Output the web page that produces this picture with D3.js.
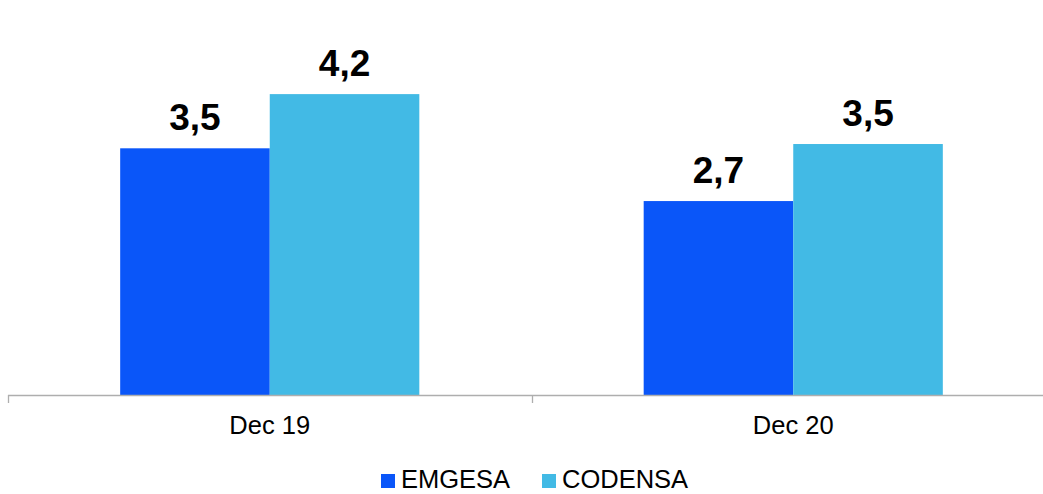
<!DOCTYPE html>
<html>
<head>
<meta charset="utf-8">
<script src="https://cdn.jsdelivr.net/npm/d3@7"></script>
<style>
  html, body { margin: 0; padding: 0; background: #fff; }
  svg { display: block; font-family: "Liberation Sans", Arial, sans-serif; }
</style>
</head>
<body>
<svg id="chart" width="1043" height="494"></svg>
<script>
const categories = ["Dec 19", "Dec 20"];
const seriesNames = ["EMGESA", "CODENSA"];
const emgesa = [3.46, 2.72];
const codensa = [4.22, 3.52];
const colors = ["#0A56F9", "#42BAE5"];

const seriesValues = [emgesa, codensa];
const rows = categories.map((c, i) => ({
  cat: c,
  vals: seriesNames.map((s, j) => ({ series: s, value: seriesValues[j][i], color: colors[j] }))
}));

const svg = d3.select("#chart");
const baseY = 395;

const x0 = d3.scaleBand().domain(categories).range([8, 1055]).paddingInner(0).paddingOuter(0);
const x1 = d3.scaleBand().domain(seriesNames).range([0, x0.bandwidth()]).paddingInner(0).paddingOuter(0.75);
const y = d3.scaleLinear().domain([0, 5]).range([baseY, baseY - 5 * 71.3]);

const fmt = v => d3.format(".1f")(v).replace(".", ",");

const g = svg.selectAll("g.cat").data(rows).join("g")
  .attr("class", "cat")
  .attr("transform", d => `translate(${x0(d.cat)},0)`);

g.selectAll("rect").data(d => d.vals).join("rect")
  .attr("x", d => x1(d.series))
  .attr("y", d => y(d.value))
  .attr("width", x1.bandwidth())
  .attr("height", d => y(0) - y(d.value))
  .attr("fill", d => d.color);

g.selectAll("text.lbl").data(d => d.vals).join("text")
  .attr("class", "lbl")
  .attr("x", d => x1(d.series) + x1.bandwidth() / 2)
  .attr("y", d => y(d.value) - 18)
  .attr("text-anchor", "middle")
  .attr("font-size", 37)
  .attr("font-weight", "bold")
  .attr("fill", "#000")
  .text(d => fmt(d.value));

// axis
const axisG = svg.append("g");
axisG.append("line")
  .attr("x1", x0.range()[0]).attr("x2", x0.range()[1])
  .attr("y1", baseY + 0.5).attr("y2", baseY + 0.5)
  .attr("stroke", "#AEAEAE").attr("stroke-width", 1.3);
const tickPos = categories.map(c => x0(c)).concat([x0.range()[1]]);
axisG.selectAll("line.tick").data(tickPos).join("line")
  .attr("class", "tick")
  .attr("x1", d => Math.round(d) + 0.5).attr("x2", d => Math.round(d) + 0.5)
  .attr("y1", baseY).attr("y2", baseY + 8)
  .attr("stroke", "#AEAEAE").attr("stroke-width", 1.3);

const xAxis = svg.append("g")
  .attr("transform", `translate(0,${baseY})`)
  .call(d3.axisBottom(x0).tickSize(0).tickPadding(0));
xAxis.select(".domain").remove();
xAxis.selectAll("text")
  .attr("y", 39)
  .attr("dy", null)
  .attr("font-size", 25.5)
  .attr("font-family", "Liberation Sans, Arial, sans-serif")
  .attr("fill", "#000");

// legend
const legendItems = [
  { name: seriesNames[0], color: colors[0], x: 381 },
  { name: seriesNames[1], color: colors[1], x: 542 }
];
const lg = svg.selectAll("g.leg").data(legendItems).join("g")
  .attr("class", "leg")
  .attr("transform", d => `translate(${d.x},0)`);
lg.append("rect")
  .attr("x", 0).attr("y", 474).attr("width", 14).attr("height", 14)
  .attr("fill", d => d.color);
lg.append("text")
  .attr("x", 20).attr("y", 488)
  .attr("font-size", 25.5)
  .attr("fill", "#000")
  .text(d => d.name);
</script>
</body>
</html>
